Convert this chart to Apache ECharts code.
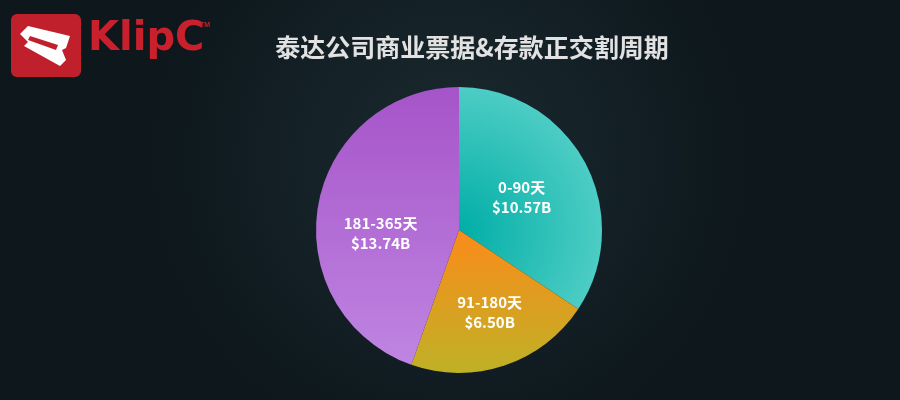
<!DOCTYPE html>
<html>
<head>
<meta charset="utf-8">
<script src="https://cdn.jsdelivr.net/npm/echarts@6/dist/echarts.min.js"></script>
<style>
  html, body { margin: 0; padding: 0; background: #0f1a1f; }
  #main { width: 900px; height: 400px; }
</style>
</head>
<body>
<div id="main"></div>
<script>
(function(){

    var titleText = '泰达公司商业票据&存款正交割周期',
        categories = ['0-90天', '91-180天', '181-365天'],
        amounts = [10.57, 6.50, 13.74]

    // 每块扇区的渐变色
    var sliceColors = [
        { type: 'radial', x: 459, y: 230, r: 150, global: true, colorStops: [
            { offset: 0, color: '#00aea6' }, { offset: 1, color: '#50cec6' } ] },
        { type: 'linear', x: 0, y: 0, x2: 0, y2: 1, colorStops: [
            { offset: 0, color: '#fb8b1a' }, { offset: 1, color: '#bfb126' } ] },
        { type: 'linear', x: 0, y: 0, x2: 0, y2: 1, colorStops: [
            { offset: 0, color: '#a654c9' }, { offset: 1, color: '#bf85e2' } ] }
    ]

    // 标签微调
    var labelOffsets = [[-3, 3], [7, 12], [-5, 16]]

    var pieData = categories.map(function(name, i){
        return {
            name: name,
            value: amounts[i],
            itemStyle: { color: sliceColors[i] },
            label: { offset: labelOffsets[i] }
        }
    })

    var chart = echarts.init(document.getElementById('main'))

    var option = {
        backgroundColor: {
            type: 'radial', x: 0.5, y: 0.4, r: 0.75,
            colorStops: [
                { offset: 0, color: '#1b2b31' },
                { offset: 1, color: '#0d171c' }
            ]
        },
        animation: false,
        title: {
            text: titleText,
            left: 467,
            top: 30,
            textAlign: 'center',
            textStyle: {
                fontSize: 25,
                fontWeight: 'bold',
                color: '#e2e2e2',
                fontFamily: 'Noto Sans CJK SC'
            }
        },
        graphic: [
            { type: 'rect', left: 11, top: 14, shape: { width: 70, height: 63, r: 6 },
              style: { fill: '#c0202b' } },
            { type: 'polygon', shape: { points: [[20, 34], [28, 26], [70, 36], [66, 48], [62, 50], [66, 60], [60, 66], [24, 46], [28, 42]] },
              style: { fill: '#ffffff' } },
            { type: 'polygon', shape: { points: [[30, 36], [58, 45], [56, 50], [28, 40]] },
              style: { fill: '#c0202b' } },
            { type: 'text', left: 88, top: 20,
              style: { text: 'KlipC', fill: '#c8202c', font: 'bold 40px "DejaVu Sans"' } },
            { type: 'text', left: 200, top: 22,
              style: { text: 'TM', fill: '#c8202c', font: 'bold 7px sans-serif' } }
        ],
        series: [{
            type: 'pie',
            center: [459, 230],
            radius: 143,
            startAngle: 90,
            clockwise: true,
            data: pieData,
            itemStyle: { borderWidth: 0 },
            label: {
                show: true,
                position: 'inside',
                color: '#ffffff',
                fontSize: 15,
                fontWeight: 'bold',
                lineHeight: 20,
                fontFamily: 'Noto Sans CJK SC',
                formatter: function(p){
                    return p.name + '\n$' + p.value.toFixed(2) + 'B'
                }
            },
            labelLine: { show: false }
        }]
    }

    chart.setOption(option)

})()
</script>
</body>
</html>
